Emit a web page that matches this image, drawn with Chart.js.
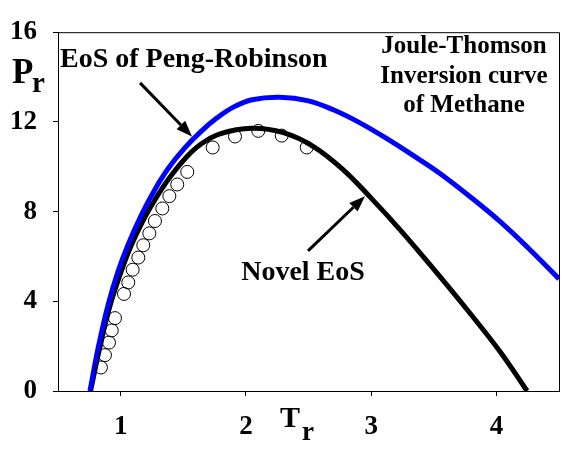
<!DOCTYPE html>
<html>
<head>
<meta charset="utf-8">
<title>Joule-Thomson inversion curve of methane</title>
<script src="https://cdn.jsdelivr.net/npm/chart.js@4.4.1/dist/chart.umd.min.js"></script>
<style>
    html, body { margin: 0; padding: 0; background: #fff; }
    .chart-wrap { width: 576px; height: 452px; }
</style>
</head>
<body>
<div class="chart-wrap"><canvas id="jtChart" width="576" height="452"></canvas></div>
<script>
// Axis ticks
const xTicks = [1, 2, 3, 4];
const yTicks = [0, 4, 8, 12, 16];

// Peng-Robinson EoS curve (Tr, Pr)
const prTr = [0.755, 0.822, 0.902, 0.981, 1.061, 1.168, 1.274, 1.381, 1.514, 1.647, 1.77, 1.9, 2.05, 2.27, 2.5, 2.698, 2.9, 3.097, 3.35, 3.55, 3.8, 4.03, 4.25, 4.5];
const prPr = [0, 1.96, 3.89, 5.36, 6.55, 7.88, 8.99, 9.93, 10.85, 11.6, 12.18, 12.66, 12.99, 13.1, 12.94, 12.54, 11.99, 11.35, 10.45, 9.7, 8.62, 7.55, 6.4, 5.0];

// Novel EoS curve (Tr, Pr)
const novelTr = [0.76, 0.83, 0.91, 0.99, 1.07, 1.17, 1.248, 1.33, 1.408, 1.514, 1.634, 1.793, 2.05, 2.3, 2.54, 2.78, 3.0, 3.23, 3.49, 3.77, 4.03, 4.245];
const novelPr = [0, 1.85, 3.7, 5.1, 6.3, 7.5, 8.28, 9.02, 9.64, 10.36, 10.98, 11.47, 11.72, 11.52, 10.9, 9.85, 8.6, 7.2, 5.5, 3.6, 1.75, 0];

// Experimental points (Tr, Pr)
const expTr = [0.843, 0.875, 0.907, 0.929, 0.955, 1.027, 1.061, 1.096, 1.141, 1.181, 1.229, 1.274, 1.333, 1.389, 1.452, 1.532, 1.735, 1.913, 2.099, 2.286, 2.486];
const expPr = [1.05, 1.6, 2.16, 2.7, 3.25, 4.33, 4.84, 5.41, 5.95, 6.5, 7.03, 7.58, 8.14, 8.69, 9.21, 9.77, 10.86, 11.35, 11.6, 11.39, 10.86];

// Arrows in data units: [fromTr, fromPr, toTr, toPr]
const pengArrow = [1.155, 13.74, 1.57, 11.35];
const novelArrow = [2.496, 6.25, 2.951, 8.69];

(function () {
    if (typeof Chart === "undefined") return;

    const serif = "'Liberation Serif', 'Times New Roman', serif";

    function toPoints(xs, ys) {
        return xs.map((x, i) => ({ x: x, y: ys[i] }));
    }

    function drawArrow(ctx, x1, y1, x2, y2) {
        const ang = Math.atan2(y2 - y1, x2 - x1);
        const headLen = 16;
        const headHalf = 6;
        const bx = x2 - headLen * Math.cos(ang);
        const by = y2 - headLen * Math.sin(ang);

        ctx.beginPath();
        ctx.moveTo(x1, y1);
        ctx.lineTo(bx, by);
        ctx.lineWidth = 3;
        ctx.strokeStyle = "#000";
        ctx.stroke();

        ctx.beginPath();
        ctx.moveTo(x2, y2);
        ctx.lineTo(bx + headHalf * Math.sin(ang), by - headHalf * Math.cos(ang));
        ctx.lineTo(bx - headHalf * Math.sin(ang), by + headHalf * Math.cos(ang));
        ctx.closePath();
        ctx.fillStyle = "#000";
        ctx.fill();
    }

    // Frame, labels, arrows
    const notesPlugin = {
        id: "notes",
        afterDraw(chart) {
            const ctx = chart.ctx;
            const a = chart.chartArea;
            const xs = chart.scales.x;
            const ys = chart.scales.y;

            ctx.save();

            // top / right sides of the box
            ctx.strokeStyle = "#000";
            ctx.lineWidth = 1;
            ctx.beginPath();
            ctx.moveTo(a.left, a.top + 0.5);
            ctx.lineTo(a.right + 0.5, a.top + 0.5);
            ctx.lineTo(a.right + 0.5, a.bottom);
            ctx.stroke();

            ctx.fillStyle = "#000";
            ctx.textBaseline = "alphabetic";

            // axis titles
            ctx.textAlign = "left";
            ctx.font = "bold 35px " + serif;
            ctx.fillText("P", 12, 83);
            ctx.font = "bold 29px " + serif;
            ctx.fillText("r", 32, 92);

            ctx.font = "bold 30px " + serif;
            ctx.fillText("T", 280, 427);
            ctx.font = "bold 27px " + serif;
            ctx.fillText("r", 302, 440);

            // curve labels
            ctx.font = "bold 28px " + serif;
            ctx.fillText("EoS of Peng-Robinson", 60, 67);
            ctx.textAlign = "center";
            ctx.fillText("Novel EoS", 303, 280);

            ctx.font = "bold 25px " + serif;
            ctx.fillText("Joule-Thomson", 464, 53);
            ctx.fillText("Inversion curve", 464, 83);
            ctx.fillText("of Methane", 464, 112);

            [pengArrow, novelArrow].forEach((ar) => {
                drawArrow(
                    ctx,
                    xs.getPixelForValue(ar[0]),
                    ys.getPixelForValue(ar[1]),
                    xs.getPixelForValue(ar[2]),
                    ys.getPixelForValue(ar[3])
                );
            });

            ctx.restore();
        },
    };

    const el = document.getElementById("jtChart");

    new Chart(el, {
        type: "scatter",
        data: {
            datasets: [
                {
                    label: "Experimental",
                    data: toPoints(expTr, expPr),
                    showLine: false,
                    pointStyle: "circle",
                    pointRadius: 6.5,
                    pointBorderWidth: 1,
                    pointBorderColor: "#000",
                    pointBackgroundColor: "rgba(0,0,0,0)",
                    order: 0,
                },
                {
                    label: "EoS of Peng-Robinson",
                    data: toPoints(prTr, prPr),
                    showLine: true,
                    borderColor: "#0000ff",
                    borderWidth: 5,
                    pointRadius: 0,
                    tension: 0.4,
                    order: 1,
                },
                {
                    label: "Novel EoS",
                    data: toPoints(novelTr, novelPr),
                    showLine: true,
                    borderColor: "#000",
                    borderWidth: 5,
                    pointRadius: 0,
                    tension: 0.4,
                    order: 2,
                },
            ],
        },
        options: {
            responsive: false,
            animation: false,
            layout: { padding: { top: 30, right: 17, left: 0, bottom: 0 } },
            plugins: {
                legend: { display: false },
                tooltip: { enabled: false },
            },
            scales: {
                x: {
                    type: "linear",
                    min: 0.5,
                    max: 4.5,
                    afterBuildTicks: (s) => { s.ticks = xTicks.map((v) => ({ value: v })); },
                    afterFit: (s) => { s.height = 61; },
                    grid: { drawOnChartArea: false, drawTicks: true, tickLength: 5, color: "#000" },
                    border: { display: true, color: "#000", width: 1 },
                    ticks: {
                        color: "#000",
                        padding: 15,
                        maxRotation: 0,
                        font: { family: serif, size: 27, weight: "bold" },
                    },
                },
                y: {
                    type: "linear",
                    min: 0,
                    max: 16,
                    afterBuildTicks: (s) => { s.ticks = yTicks.map((v) => ({ value: v })); },
                    afterFit: (s) => { s.width = 58; },
                    grid: { drawOnChartArea: false, drawTicks: true, tickLength: 5, color: "#000" },
                    border: { display: true, color: "#000", width: 1 },
                    ticks: {
                        color: "#000",
                        padding: 16,
                        font: { family: serif, size: 27, weight: "bold" },
                    },
                },
            },
        },
        plugins: [notesPlugin],
    });
})();
</script>
</body>
</html>
